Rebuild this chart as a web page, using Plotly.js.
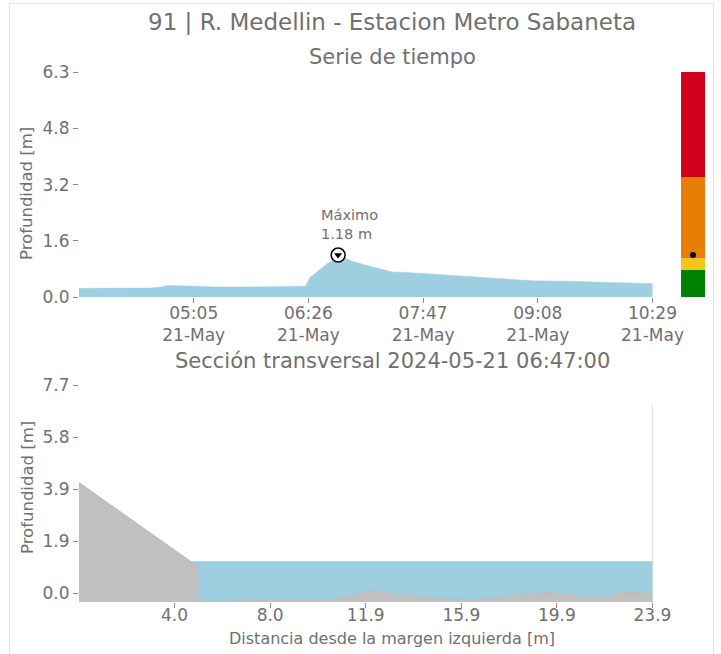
<!DOCTYPE html>
<html>
<head>
<meta charset="utf-8">
<script src="https://cdn.plot.ly/plotly-3.0.1.min.js"></script>
<style>
  html, body { margin: 0; padding: 0; background: #fff; }
  #plot { position: absolute; left: 0; top: 0; width: 721px; height: 654px; }
  #frame { position: absolute; left: 9px; top: 3px; width: 703px; height: 700px;
           border: 1px solid #e4e4e4; pointer-events: none; }
</style>
</head>
<body>
<div id="plot"></div>
<div id="frame"></div>
<script>
// ---- Data ----
const stationTitle = '91 | R. Medellin - Estacion Metro Sabaneta';
const seriesTitle = 'Serie de tiempo';
const day = '2024-05-21';

const times = ['03:44','04:00','04:20','04:34','04:41','04:46','04:50','04:55','05:06','05:20',
               '05:45','06:05','06:20','06:24','06:27','06:31','06:34','06:39','06:44','06:47',
               '06:52','06:56','07:06','07:17','07:25','07:38','07:54','08:18','08:42','09:05',
               '09:29','09:53','10:16','10:30'];
const depths = [0.25,0.25,0.25,0.26,0.28,0.32,0.33,0.32,0.30,0.29,
                0.29,0.29,0.30,0.31,0.55,0.68,0.79,0.93,1.05,1.18,
                1.10,1.02,0.90,0.79,0.71,0.69,0.65,0.57,0.52,0.46,
                0.45,0.42,0.39,0.38];

const timeTicks = ['05:05','06:26','07:47','09:08','10:29'];
const timeTickText = ['05:05<br>21-May','06:26<br>21-May','07:47<br>21-May','09:08<br>21-May','10:29<br>21-May'];
const timeRange = ['03:44','10:29'];

const depthTicks = [0, 1.575, 3.15, 4.725, 6.3];
const depthTickText = ['0.0','1.6','3.2','4.8','6.3'];

// alert levels (lower bounds) and colours
const levelLows  = [0, 0.76, 1.09, 3.36];
const levelHighs = [0.76, 1.09, 3.36, 6.3];
const levelColors = ['#008000', '#f5c518', '#e87e04', '#d0021b'];

// cross-section
const groundX = [0, 4.95, 4.95, 9.6, 10.75, 12.2, 13.8, 15.35, 16.6, 17.85, 19.5, 21.0, 22.4, 22.4, 23.9, 23.9];
const groundY = [4.08, 0.98, -0.32, -0.26, -0.23, 0.09, -0.10, -0.21, -0.26, -0.11, 0.03, -0.11, -0.11, 0.05, -0.01, 6.96];
const secRange = [-0.33, 7.7];
const secXMax = 23.9;
const secYTicks = [0, 1.925, 3.85, 5.775, 7.7];
const secYTickText = ['0.0','1.9','3.9','5.8','7.7'];
const secXTicks = [3.983, 7.967, 11.95, 15.933, 19.917, 23.9];
const secXTickText = ['4.0','8.0','11.9','15.9','19.9','23.9'];

// ---- Build ----
const T = s => day + ' ' + s;
const tx = times.map(T);
let iMax = 0;
depths.forEach((v, i) => { if (v > depths[iMax]) iMax = i; });
const maxVal = depths[iMax];
const maxTime = tx[iMax];

const waterBlue = '#9dcfe0';
const txt = '#707070';

const traces = [
  { type: 'scatter', x: tx, y: depths, xaxis: 'x', yaxis: 'y', mode: 'lines',
    fill: 'tozeroy', fillcolor: waterBlue, line: { color: waterBlue, width: 0.5 }, hoverinfo: 'skip' },
  { type: 'scatter', x: [maxTime], y: [maxVal], xaxis: 'x', yaxis: 'y', mode: 'markers',
    marker: { symbol: 'circle', size: 14, color: '#ffffff', line: { color: '#000', width: 1.5 } } },
  { type: 'scatter', x: [maxTime], y: [maxVal], xaxis: 'x', yaxis: 'y', mode: 'markers',
    marker: { symbol: 'triangle-down', size: 7, color: '#000' } },
  { type: 'bar', x: levelLows.map(() => 0), y: levelHighs.map((h, i) => h - levelLows[i]),
    base: levelLows, width: 1, xaxis: 'x3', yaxis: 'y',
    marker: { color: levelColors, line: { width: 0 } } },
  { type: 'scatter', x: [0], y: [maxVal], xaxis: 'x3', yaxis: 'y', mode: 'markers',
    marker: { color: '#000', size: 6 } },
  // water in section
  { type: 'scatter', x: [0, secXMax, secXMax, 0], y: [maxVal, maxVal, secRange[0], secRange[0]],
    xaxis: 'x2', yaxis: 'y2', mode: 'lines', fill: 'toself', fillcolor: waterBlue,
    line: { width: 0, color: waterBlue } },
  // ground in section
  { type: 'scatter', x: groundX.concat([secXMax, 0]), y: groundY.concat([secRange[0] - 1, secRange[0] - 1]),
    xaxis: 'x2', yaxis: 'y2', mode: 'lines', fill: 'toself', fillcolor: '#c0c0c0',
    line: { width: 1.2, color: '#bdbdbd' } }
];

const axCommon = { showgrid: false, zeroline: false, showline: false, ticks: 'outside',
  ticklen: 5, tickwidth: 1, tickcolor: '#8a8a8a', tickfont: { size: 17, color: txt } };

const H = 530, W = 626, top0 = 72, left0 = 79;
const py = p => (602 - p) / H;

const layout = {
  width: 721, height: 654,
  margin: { l: 79, r: 16, t: 72, b: 52 },
  paper_bgcolor: '#fff', plot_bgcolor: '#fff',
  showlegend: false, hovermode: false,
  font: { family: 'DejaVu Sans, sans-serif', color: txt },
  xaxis: Object.assign({}, axCommon, { domain: [0, 0.9161], type: 'date', anchor: 'y',
    range: timeRange.map(T), tickvals: timeTicks.map(T), ticktext: timeTickText, ticklabelstandoff: -5 }),
  yaxis: Object.assign({}, axCommon, { domain: [0.5749, 1], anchor: 'x', range: [0, 6.3],
    tickvals: depthTicks, ticktext: depthTickText }),
  xaxis3: { domain: [0.9617, 1], range: [-0.5, 0.5], anchor: 'y', visible: false, fixedrange: true },
  xaxis2: Object.assign({}, axCommon, { domain: [0, 0.9161], anchor: 'y2', range: [0, secXMax],
    tickvals: secXTicks, ticktext: secXTickText, ticklabelstandoff: -7 }),
  yaxis2: Object.assign({}, axCommon, { domain: [0, 0.4094], anchor: 'x2', range: secRange,
    tickvals: secYTicks, ticktext: secYTickText }),
  annotations: [
    { xref: 'paper', yref: 'paper', x: 0.5, y: py(22), xanchor: 'center', yanchor: 'middle',
      text: stationTitle, showarrow: false, font: { size: 23, color: txt } },
    { xref: 'paper', yref: 'paper', x: 0.5, y: py(57), xanchor: 'center', yanchor: 'middle',
      text: seriesTitle, showarrow: false, font: { size: 21, color: txt } },
    { xref: 'paper', yref: 'paper', x: 0.5, y: py(361), xanchor: 'center', yanchor: 'middle',
      text: 'Sección transversal ' + maxTime + ':00', showarrow: false, font: { size: 21, color: txt } },
    { xref: 'paper', yref: 'paper', x: 0.5, y: py(638), xanchor: 'center', yanchor: 'middle',
      text: 'Distancia desde la margen izquierda [m]', showarrow: false, font: { size: 16, color: txt } },
    { xref: 'paper', yref: 'paper', x: (27 - left0) / W, y: py(194), xanchor: 'center', yanchor: 'middle',
      text: 'Profundidad [m]', textangle: -90, showarrow: false, font: { size: 16.5, color: txt } },
    { xref: 'paper', yref: 'paper', x: (27 - left0) / W, y: py(488), xanchor: 'center', yanchor: 'middle',
      text: 'Profundidad [m]', textangle: -90, showarrow: false, font: { size: 16.5, color: txt } },
    { xref: 'x', yref: 'y', x: maxTime, y: maxVal, xanchor: 'center', yanchor: 'bottom',
      xshift: 11, yshift: 11, align: 'left', showarrow: false,
      text: 'Máximo<br>' + maxVal.toFixed(2) + ' m', font: { size: 14.5, color: txt } }
  ]
};

Plotly.newPlot('plot', traces, layout, { displayModeBar: false, staticPlot: true });
</script>
</body>
</html>
